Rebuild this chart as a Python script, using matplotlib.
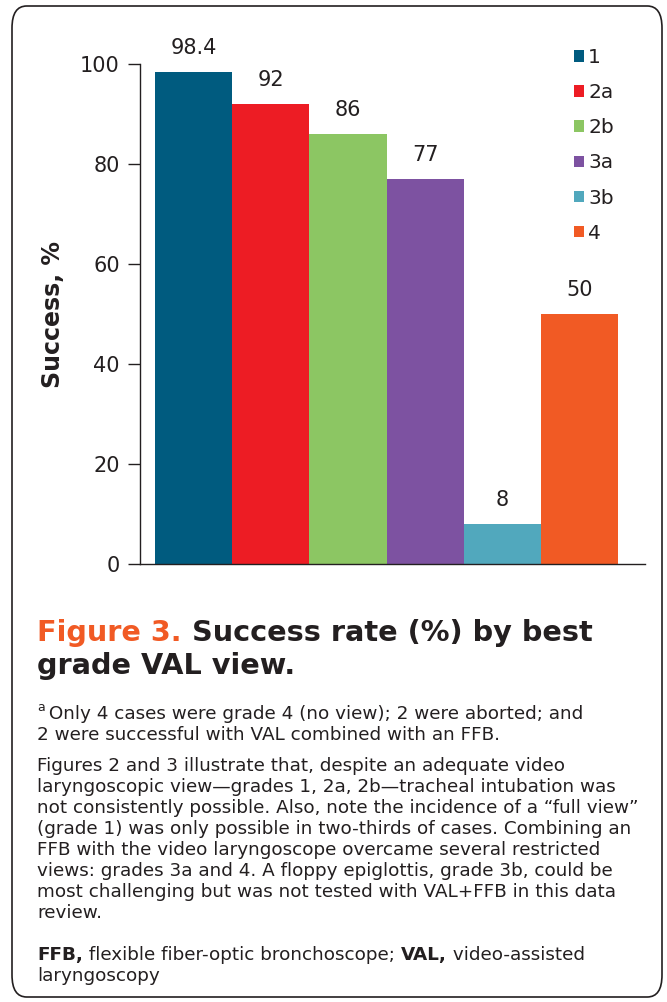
import matplotlib
matplotlib.use("Agg")
import matplotlib.pyplot as plt
from matplotlib.patches import FancyBboxPatch

# data
grades = ["1", "2a", "2b", "3a", "3b", "4"]
success = [98.4, 92, 86, 77, 8, 50]
value_labels = ["98.4", "92", "86", "77", "8", "50"]
colors = ["#005b7f", "#ed1c24", "#8cc663", "#7d52a1", "#51a8bd", "#f15a24"]
yticks = [0, 20, 40, 60, 80, 100]

W, H = 667, 1002
DPI = 100
TXT = "#231f20"
ORANGE = "#f15a24"
FONT = "DejaVu Sans"

fig = plt.figure(figsize=(W / DPI, H / DPI), dpi=DPI)
renderer = fig.canvas.get_renderer()

def fx(px):
    return px / W

def fy(py):
    return 1 - py / H

# rounded frame
frame = FancyBboxPatch((fx(12), fy(997)), fx(650), (997 - 6) / H,
                       boxstyle="round,pad=0,rounding_size=0.022",
                       transform=fig.transFigure, fill=False,
                       edgecolor="#231f20", linewidth=1.2)
fig.patches.append(frame)

# chart axes
ax_left, ax_right, ax_top, ax_bottom = 140, 645, 64, 564
ax = fig.add_axes([fx(ax_left), fy(ax_bottom), fx(ax_right - ax_left), (ax_bottom - ax_top) / H])
x = list(range(len(grades)))
bars = ax.bar(x, success, width=1.0, color=colors, label=grades)
ax.set_ylim(0, 100)
ax.set_xlim(-0.5 - 15 / 77.2, 5.5 + 27 / 77.2)
ax.set_yticks(yticks)
ax.set_xticks([])
for s in ["top", "right"]:
    ax.spines[s].set_visible(False)
for s in ["left", "bottom"]:
    ax.spines[s].set_linewidth(1.0)
    ax.spines[s].set_color("#231f20")
ax.tick_params(axis="y", length=8.6, width=1.0, color="#231f20", pad=6,
               labelsize=15, labelcolor=TXT)
for lab in ax.get_yticklabels():
    lab.set_fontfamily(FONT)
ax.set_ylabel("Success, %", fontsize=17, fontweight="bold", family=FONT,
              color=TXT, labelpad=11)

for xi, v, lab in zip(x, success, value_labels):
    ax.annotate(lab, (xi, v), xytext=(0, 17), textcoords="offset points",
                ha="center", va="center", fontsize=15, family=FONT,
                color=TXT)

leg = ax.legend(handles=bars, labels=grades, loc="upper left",
                bbox_to_anchor=((566 - ax_left) / (ax_right - ax_left), 1.048),
                frameon=False, handlelength=0.5, handleheight=0.5,
                handletextpad=0.2, labelspacing=0.8, borderaxespad=0,
                prop={"family": FONT, "size": 14.5})
for t in leg.get_texts():
    t.set_color(TXT)

# helper to draw text runs
def run(segments, px, py, size):
    cur = px
    for s, weight, color in segments:
        t = fig.text(fx(cur), fy(py), s, fontsize=size, fontweight=weight,
                     color=color, family=FONT, va="baseline", ha="left")
        bb = t.get_window_extent(renderer)
        cur += bb.width
    return cur

# title
tsize = 20.7
run([("Figure 3. ", "bold", ORANGE), ("Success rate (%) by best", "bold", TXT)], 37, 641, tsize)
run([("grade VAL view.", "bold", TXT)], 37, 674, tsize)

# footnote
body = 13.2
fig.text(fx(37), fy(711), "a", fontsize=9, color=TXT, family=FONT, va="baseline")
run([(" Only 4 cases were grade 4 (no view); 2 were aborted; and", "normal", TXT)], 43, 719, body)
run([("2 were successful with VAL combined with an FFB.", "normal", TXT)], 37, 740, body)

para = [
    "Figures 2 and 3 illustrate that, despite an adequate video",
    "laryngoscopic view\u2014grades 1, 2a, 2b\u2014tracheal intubation was",
    "not consistently possible. Also, note the incidence of a \u201cfull view\u201d",
    "(grade 1) was only possible in two-thirds of cases. Combining an",
    "FFB with the video laryngoscope overcame several restricted",
    "views: grades 3a and 4. A floppy epiglottis, grade 3b, could be",
    "most challenging but was not tested with VAL+FFB in this data",
    "review.",
]
for i, line in enumerate(para):
    run([(line, "normal", TXT)], 37, 771 + i * 21, body)

run([("FFB,", "bold", TXT), (" flexible fiber-optic bronchoscope; ", "normal", TXT),
     ("VAL,", "bold", TXT), (" video-assisted", "normal", TXT)], 37, 960, body)
run([("laryngoscopy", "normal", TXT)], 37, 981, body)

fig.savefig("out.png", dpi=DPI)
